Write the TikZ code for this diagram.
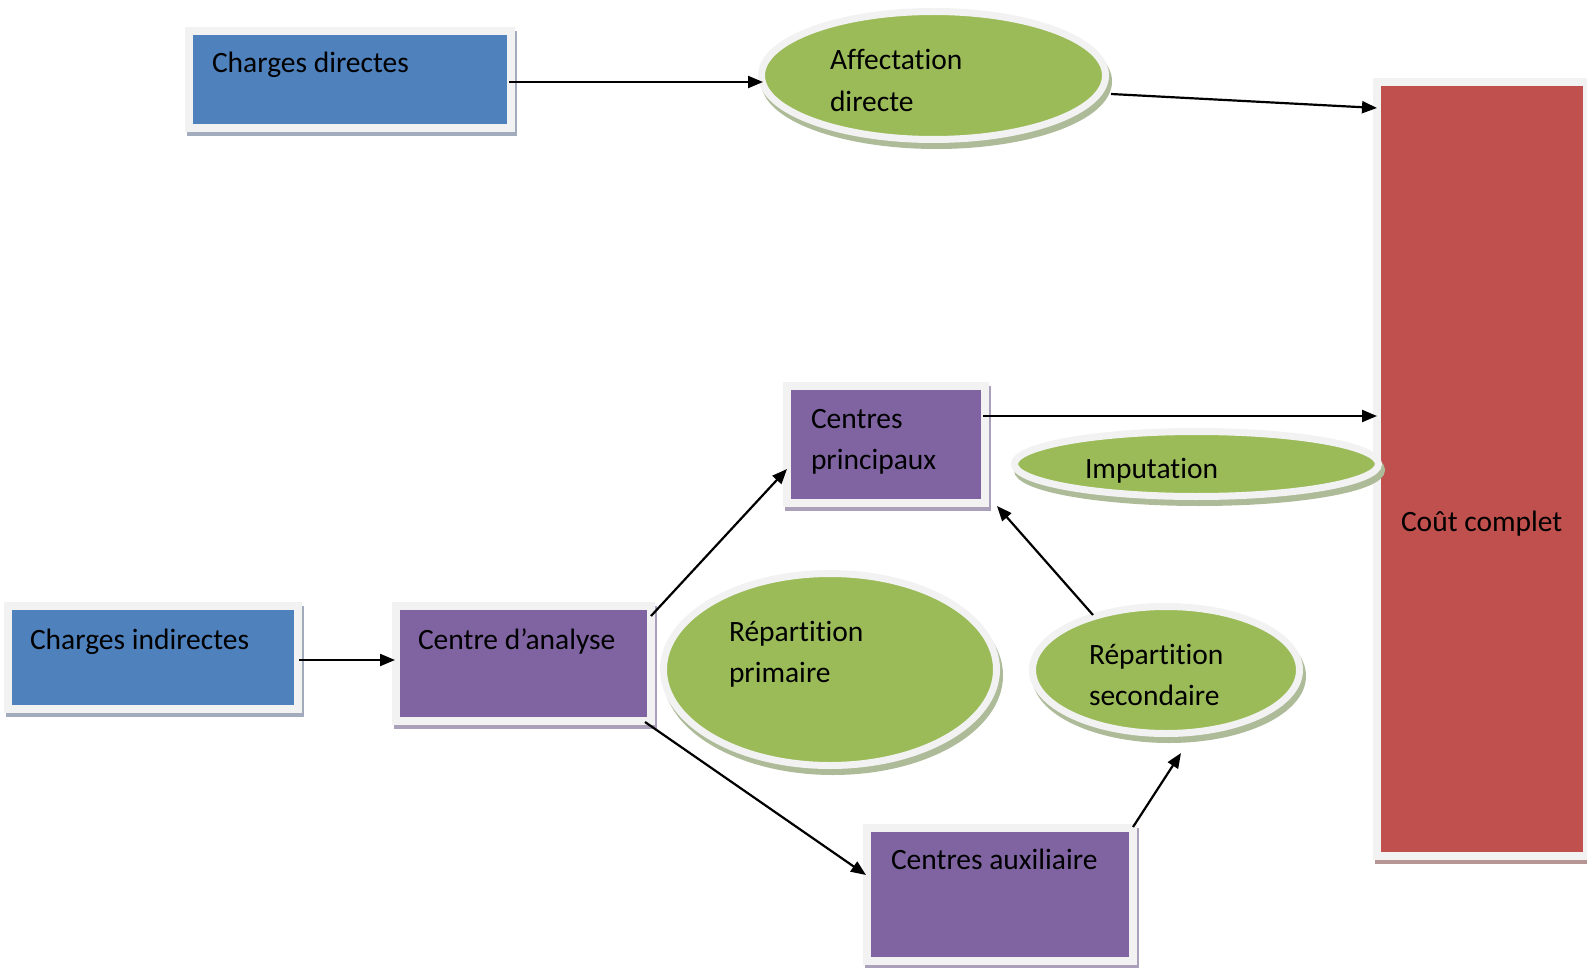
\documentclass[tikz,border=0pt]{standalone}
\usepackage{fontspec}
\setmainfont{Carlito}[Ligatures={NoCommon}]
\usetikzlibrary{arrows.meta,shapes.geometric}
\definecolor{cblue}{HTML}{4F81BD}
\definecolor{cpurple}{HTML}{8064A2}
\definecolor{cgreen}{HTML}{9BBB59}
\definecolor{cred}{HTML}{C0504D}
\definecolor{ring}{HTML}{F2F2F2}
\definecolor{shblue}{HTML}{A3ACBD}
\definecolor{shpurple}{HTML}{ABA0BA}
\definecolor{shred}{HTML}{B89595}
\definecolor{shgreen}{HTML}{AEBB98}
\begin{document}
\begin{tikzpicture}[x=1pt,y=-1pt,
  bx/.style 2 args={rectangle, inner sep=0pt, outer sep=0pt, draw=ring, line width=8pt, fill=#1,
    preaction={draw=#2, fill=#2, line width=8pt, transform canvas={xshift=2pt,yshift=-4pt}}},
  el/.style={ellipse, inner sep=0pt, outer sep=0pt, draw=ring, line width=7pt, fill=cgreen,
    preaction={draw=shgreen, fill=shgreen, line width=7pt, transform canvas={xshift=3pt,yshift=-6pt}}},
  txt/.style={anchor=base west, inner sep=0pt, outer sep=0pt, font=\fontsize{29.5}{35}\selectfont, text=black},
  arr/.style={draw=black, line width=2.2pt, -{Triangle[length=15pt,width=12pt]}}
]
\fill[white] (0,0) rectangle (1587,968);
\useasboundingbox (0,0) rectangle (1587,968);

% boxes
\node[bx={cblue}{shblue}, minimum width=322pt, minimum height=97pt] (cd) at (350,79.5) {};
\node[bx={cblue}{shblue}, minimum width=290pt, minimum height=103pt] (ci) at (153,657.5) {};
\node[bx={cpurple}{shpurple}, minimum width=255pt, minimum height=115pt] (ca) at (523.5,663.5) {};
\node[bx={cpurple}{shpurple}, minimum width=198pt, minimum height=117pt] (cp) at (886,444.5) {};
\node[bx={cpurple}{shpurple}, minimum width=266pt, minimum height=133pt] (cx) at (1000,894.5) {};
\node[bx={cred}{shred}, minimum width=210pt, minimum height=774pt] (cc) at (1482,469) {};

% ellipses
\node[el, minimum width=344pt, minimum height=128pt] (ad) at (933.5,75.5) {};
\node[el, minimum width=364pt, minimum height=65pt] (im) at (1196.5,464) {};
\node[el, minimum width=333pt, minimum height=192pt] (rp) at (830,669.5) {};
\node[el, minimum width=267pt, minimum height=127pt] (rs) at (1166,670) {};

% texts
\node[txt] (t-cd) at (212,73) {Charges directes};
\node[txt] (t-ad1) at (830,70) {Affectation};
\node[txt] (t-ad2) at (830,111.5) {directe};
\node[txt] (t-cp1) at (811,428) {Centres};
\node[txt] (t-cp2) at (811,469.5) {principaux};
\node[txt] (t-im) at (1085,478) {Imputation};
\node[txt] (t-ci) at (30,649) {Charges indirectes};
\node[txt] (t-ca) at (418,649) {Centre d’analyse};
\node[txt] (t-rp1) at (729,641) {Répartition};
\node[txt] (t-rp2) at (729,682.5) {primaire};
\node[txt] (t-rs1) at (1089,664) {Répartition};
\node[txt] (t-rs2) at (1089,705.5) {secondaire};
\node[txt] (t-cx) at (891,869) {Centres auxiliaire};
\node[txt] (t-cc) at (1401,531) {Coût complet};

% connectors
\draw[arr] ([shift={(-2,2.5)}]cd.east) -- ([shift={(1.5,6.5)}]ad.west);
\draw[arr] ([shift={(5.5,18.5)}]ad.east) -- ([shift={(0,26)}]cc.north west);
\draw[arr] ([shift={(1,2.5)}]ci.east) -- ([shift={(-1,-3.5)}]ca.west);
\draw[arr] ([shift={(0,10)}]ca.north east) -- ([shift={(0,-34)}]cp.south west);
\draw[arr] ([shift={(-6,1)}]ca.south east) -- ([shift={(-1,-19.5)}]cx.west);
\draw[arr] ([shift={(0,-1)}]cx.north east) -- ([shift={(15,19.5)}]rs.south);
\draw[arr] ([shift={(-73,8.5)}]rs.north) -- ([shift={(12,3)}]cp.south east);
\draw[arr] ([shift={(-2,-28.5)}]cp.east) -- ([shift={(0,-53)}]cc.west);
\end{tikzpicture}
\end{document}
